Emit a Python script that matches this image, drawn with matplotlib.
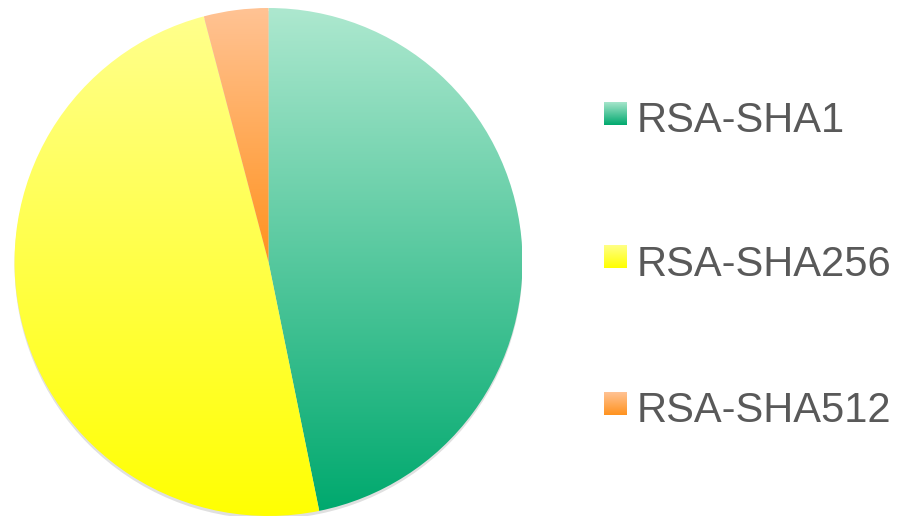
import numpy as np
import matplotlib.pyplot as plt
from matplotlib.patches import Circle

labels = ["RSA-SHA1", "RSA-SHA256", "RSA-SHA512"]
shares = [46.8, 49.1, 4.1]
# (top colour, bottom colour) of each slice gradient
top_colors = ["#ade8cf", "#ffff8c", "#ffc394"]
bottom_colors = ["#00a96e", "#ffff00", "#ff921e"]

W, H = 901, 518


def gradient(top, bottom, n=256):
    c0 = np.array(plt.matplotlib.colors.to_rgb(top))
    c1 = np.array(plt.matplotlib.colors.to_rgb(bottom))
    t = np.linspace(0, 1, n)[:, None]
    return (c0 * (1 - t) + c1 * t)[:, None, :]


fig = plt.figure(figsize=(W / 100, H / 100), dpi=100)
ax = fig.add_axes([14.5 / W, 2 / H, 508 / W, 508 / H])

# faint shadow under the pie
ax.add_patch(Circle((0, -0.012), 1.0, color="#000000", alpha=0.12, zorder=0, lw=0))

wedges, _ = ax.pie(shares, startangle=90, counterclock=False, radius=1.0,
                   wedgeprops=dict(linewidth=0))
for w, top, bot in zip(wedges, top_colors, bottom_colors):
    verts = w.get_path().vertices
    xmin, ymin = verts.min(axis=0)
    xmax, ymax = verts.max(axis=0)
    w.set_facecolor("none")
    im = ax.imshow(gradient(top, bot), extent=(xmin, xmax, ymin, ymax),
                   origin="upper", aspect="auto", zorder=2, interpolation="bilinear")
    im.set_clip_path(w)

ax.set_xlim(-1, 1)
ax.set_ylim(-1, 1)
ax.set_aspect("equal")
ax.axis("off")

# legend: gradient squares + labels
square_tops = [102, 245, 392]
baselines = [132, 276, 422]
for lab, top, bot, sy, by in zip(labels, top_colors, bottom_colors, square_tops, baselines):
    sax = fig.add_axes([604 / W, 1 - (sy + 23) / H, 23 / W, 23 / H])
    sax.imshow(gradient(top, bot), aspect="auto", origin="upper")
    sax.axis("off")
    fig.text(637 / W, 1 - by / H, lab, fontsize=30, color="#595959",
             family="Liberation Sans", va="baseline", ha="left")

fig.savefig("out.png", dpi=100)
